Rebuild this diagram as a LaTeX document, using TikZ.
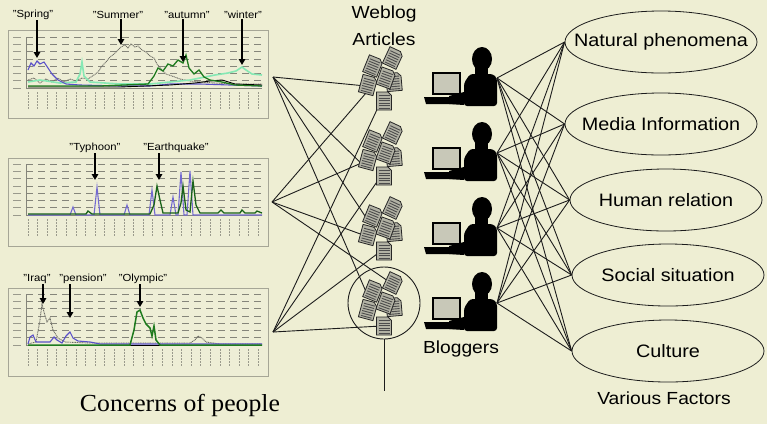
\documentclass[tikz,border=0pt]{standalone}
\usepackage{fontspec}
\setmainfont{Liberation Sans}[FakeStretch=1.1]
\newfontfamily\serifface{Liberation Serif}[FakeStretch=1.05]
\usetikzlibrary{arrows.meta,shapes.geometric}
\definecolor{paper}{HTML}{EEEED3}
\definecolor{chartbg}{HTML}{EEEED6}
\definecolor{framec}{HTML}{A6A696}
\definecolor{gridc}{HTML}{85857A}
\definecolor{tickc}{HTML}{9A9A8C}
\definecolor{docfill}{HTML}{B2B2A4}
\definecolor{screenc}{HTML}{C8C8B8}
\definecolor{springblue}{HTML}{5A50C8}
\definecolor{winterg}{HTML}{86E8B4}
\definecolor{autumng}{HTML}{1E7A1E}
\definecolor{summerg}{HTML}{6E6E66}
\definecolor{linkc}{HTML}{1C1C1C}
\tikzset{
  link/.style={draw=linkc, line width=0.9pt},
  chartframe/.style={draw=framec, line width=0.8pt, fill=chartbg},
  gridline/.style={draw=gridc, line width=0.7pt, dash pattern=on 7pt off 5pt},
  tagarrow/.style={draw=black, line width=1.7pt, -{Triangle[length=6pt,width=6.5pt]}},
  tagtext/.style={font=\fontsize{10.3}{11}\selectfont, inner sep=0pt},
  factor/.style={ellipse, draw=linkc, line width=0.8pt, minimum width=192pt, minimum height=62pt, inner sep=0pt},
  factortext/.style={font=\fontsize{18}{20}\selectfont, inner sep=0pt},
  heading/.style={font=\fontsize{17.5}{19}\selectfont, inner sep=0pt},
  docicon/.pic={
    \draw[fill=docfill, draw=black!85, line width=0.8pt] (-7.5,-9) -- (4,-9) -- (7.5,-5.5) -- (7.5,9) -- (-7.5,9) -- cycle;
    \foreach \yy in {-5.5,-3,-0.5,2,4.5,7}
      \draw[black!70, line width=0.9pt] (-5.5,\yy) -- (5.5,\yy);
  },
  blogger/.pic={
    \draw[fill=screenc, draw=black, line width=2pt] (-64,-5) rectangle (-37,16);
    \fill[black] (-73,19) -- (-36,19) -- (-34,26) -- (-71,26) -- cycle;
    \fill[black] (-15,-19) ellipse (10 and 12);
    \fill[black] (-22,-12) rectangle (-9,-1);
    \fill[black, rounded corners=3pt] (-33,28) -- (-33,5) -- (-27,-4) -- (-4,-4) -- (0,0) -- (0,28) -- cycle;
    \fill[black] (-33,14) -- (-48,18) -- (-48,26) -- (-33,27) -- cycle;
  }
}
\begin{document}
\begin{tikzpicture}[x=1pt,y=-1pt]
\fill[paper] (0,0) rectangle (767,424);
\useasboundingbox (0,0) rectangle (767,424);

% ---------- chart panels ----------
\foreach \top/\base in {30/88, 158/215, 288/345} {
  \path[chartframe] (8,\top) rectangle (268,\top+88);
  \foreach \k in {0,...,6}
    \draw[gridline] (26,{\base-51+\k*7.3}) -- (262,{\base-51+\k*7.3});
  \draw[gridc, line width=0.5pt] (26,\base-51) -- (26,\base) -- (262,\base);
  \foreach \k in {0,...,7}
    \draw[tickc, line width=0.8pt] (13,{\base-51+\k*7.3}) -- (21,{\base-51+\k*7.3});
  \foreach \i in {0,...,24}
    \draw[tickc, line width=0.9pt, dash pattern=on 2pt off 1pt] ({28+\i*9.6},\base+4) -- ({28+\i*9.6},\base+21);
}

% chart 1: seasons
\draw[summerg, line width=0.9pt, dash pattern=on 1pt off 0.7pt]
  (28,80) -- (34,78) -- (40,83) -- (46,79) -- (52,82) -- (58,78) -- (64,82) -- (70,79) -- (76,81) -- (82,78) -- (88,79) -- (94,75) -- (98,72) -- (102,66) -- (106,62) -- (110,57) -- (114,54) -- (118,50) -- (121,47) -- (125,45) -- (128,48) -- (131,44) -- (135,47) -- (138,46) -- (142,50) -- (146,52) -- (150,56) -- (154,58) -- (157,64) -- (162,70) -- (166,74) -- (172,76) -- (180,79) -- (190,81) -- (200,82) -- (215,83) -- (235,84) -- (262,84);
\draw[winterg, line width=1.6pt]
  (28,82) -- (40,80) -- (60,83) -- (76,82) -- (80,74) -- (82,62) -- (84,76) -- (90,82) -- (120,84) -- (150,84) -- (170,82) -- (190,80) -- (205,77) -- (215,75) -- (228,73) -- (236,71) -- (242,67) -- (246,70) -- (252,74) -- (262,75);
\draw[springblue, line width=1.1pt]
  (28,70) -- (31,63) -- (34,66) -- (37,61) -- (40,64) -- (44,62) -- (48,68) -- (52,74) -- (58,80) -- (66,84) -- (80,85) -- (120,86) -- (150,86) -- (170,84) -- (200,84) -- (230,85) -- (262,86);
\draw[black, line width=0.9pt]
  (28,87) -- (120,87) -- (170,85) -- (195,83) -- (210,81) -- (222,80) -- (235,84) -- (262,85);
\draw[autumng, line width=1.3pt]
  (28,86) -- (100,86) -- (148,84) -- (154,76) -- (158,68) -- (163,71) -- (168,64) -- (173,66) -- (178,60) -- (183,63) -- (186,55) -- (189,68) -- (194,74) -- (199,70) -- (204,77) -- (210,80) -- (222,82) -- (235,85) -- (262,86);

% chart 2: typhoon and earthquake
\draw[springblue!85, line width=1.1pt]
  (28,215) -- (70,215) -- (73,207) -- (76,215) -- (94,215) -- (97,187) -- (100,215) -- (124,215) -- (127,205) -- (130,215) -- (149,215) -- (152,190) -- (155,215) -- (170,215) -- (173,197) -- (176,215) -- (178,215) -- (181,172) -- (184,215) -- (187,215) -- (190,171) -- (193,215) -- (262,215);
\draw[autumng!80!black, line width=1.3pt]
  (28,214) -- (86,214) -- (88,211) -- (92,214) -- (150,214) -- (154,205) -- (157,186) -- (160,200) -- (163,213) -- (178,213) -- (181,203) -- (183,186) -- (186,210) -- (190,212) -- (193,181) -- (196,205) -- (200,213) -- (218,213) -- (221,210) -- (224,213) -- (240,213) -- (242,210) -- (245,213) -- (255,213) -- (257,211) -- (262,213);

% chart 3: Iraq, pension, Olympic
\draw[summerg, line width=0.9pt, dash pattern=on 1pt off 0.7pt]
  (28,344) -- (36,342) -- (40,320) -- (42,304) -- (44,312) -- (47,322) -- (50,318) -- (53,330) -- (58,338) -- (65,342) -- (90,343) -- (190,343) -- (195,340) -- (198,336) -- (202,338) -- (206,342) -- (220,344) -- (262,344);
\draw[springblue, line width=1.1pt]
  (28,344) -- (30,337) -- (33,335) -- (36,342) -- (50,342) -- (54,337) -- (57,340) -- (62,343) -- (66,336) -- (70,332) -- (73,338) -- (78,341) -- (90,342) -- (100,344) -- (262,344);
\draw[black, line width=0.9pt] (28,345) -- (262,345);
\draw[autumng, line width=1.5pt]
  (28,345) -- (130,345) -- (134,330) -- (137,312) -- (140,310) -- (143,318) -- (146,324) -- (150,328) -- (152,336) -- (154,326) -- (156,340) -- (160,345) -- (262,345);

% ---------- topic tags ----------
\node[tagtext] (tspring) at (33,15) {"Spring"};
\node[tagtext] (tsummer) at (118,15) {"Summer"};
\node[tagtext] (tautumn) at (187,15) {"autumn"};
\node[tagtext] (twinter) at (243,15) {"winter"};
\coordinate (pspring) at (37,58);
\coordinate (psummer) at (121,45);
\coordinate (pautumn) at (183,62);
\coordinate (pwinter) at (242,65);
\draw[tagarrow] (tspring.south -| pspring) -- (pspring);
\draw[tagarrow] (tsummer.south -| psummer) -- (psummer);
\draw[tagarrow] (tautumn.south -| pautumn) -- (pautumn);
\draw[tagarrow] (twinter.south -| pwinter) -- (pwinter);

\node[tagtext] (ttyphoon) at (95,148) {"Typhoon"};
\node[tagtext] (tquake) at (176,148) {"Earthquake"};
\coordinate (ptyphoon) at (95,180);
\coordinate (pquake) at (159,180);
\draw[tagarrow] (ttyphoon.south -| ptyphoon) -- (ptyphoon);
\draw[tagarrow] (tquake.south -| pquake) -- (pquake);

\node[tagtext] (tiraq) at (37,279) {"Iraq"};
\node[tagtext] (tpension) at (83,279) {"pension"};
\node[tagtext] (tolympic) at (143,279) {"Olympic"};
\coordinate (piraq) at (43,304);
\coordinate (ppension) at (70,318);
\coordinate (polympic) at (140,307);
\draw[tagarrow] (tiraq.south -| piraq) -- (piraq);
\draw[tagarrow] (tpension.south -| ppension) -- (ppension);
\draw[tagarrow] (tolympic.south -| polympic) -- (polympic);

\node[font=\serifface\fontsize{24.5}{26}\selectfont, inner sep=0pt] (concerns) at (180,405) {Concerns of people};

% ---------- hubs on the chart panels ----------
\coordinate (L1) at (273,77);
\coordinate (L2) at (272,202);
\coordinate (L3) at (273,332);

% ---------- weblog article clusters ----------
\node[heading] (weblog) at (384,14) {Weblog};
\node[heading] (articles) at (384,39) {Articles};
\foreach \n/\cy in {1/80, 2/155, 3/230, 4/305} {
  \coordinate (C\n a) at (366,\cy+6);
  \coordinate (C\n b) at (381,\cy+21);
  \coordinate (C\n c) at (366,\cy+13);
  \coordinate (C\n t) at (367,\cy-11);
  \coordinate (C\n u) at (388,\cy-24);
}
% connectors from the chart panels into the clusters
\draw[link] (L1) -- (C1a);
\draw[link] (L1) -- (C2c);
\draw[link] (L1) -- (C3t);
\draw[link] (L1) -- (C4t);
\draw[link] (L2) -- (C1c);
\draw[link] (L2) -- (C2a);
\draw[link] (L2) -- (C3a);
\draw[link] (L2) -- (C4u);
\draw[link] (L3) -- (C1b);
\draw[link] (L3) -- (C2b);
\draw[link] (L3) -- (C3b);
\draw[link] (L3) -- (C4b);

\foreach \cy in {80, 155, 230, 305} {
  \pic[rotate=5] at (394,\cy+2) {docicon};
  \pic[rotate=-22] at (373,\cy-14) {docicon};
  \pic[rotate=-25] at (393,\cy-22) {docicon};
  \pic[rotate=-20] at (386,\cy-2) {docicon};
  \pic[rotate=-15] at (368,\cy+5) {docicon};
  \pic at (384,\cy+21) {docicon};
}
% selection circle around the last cluster
\node[circle, draw=linkc, line width=0.9pt, minimum size=72pt, inner sep=0pt] (focus) at (384,303) {};
\coordinate (focusend) at (384,391);
\draw[link] (focus.south) -- (focusend);

% ---------- bloggers ----------
\foreach \n/\by in {1/78, 2/153, 3/228, 4/303} {
  \coordinate (B\n) at (497,\by);
  \pic at (B\n) {blogger};
}
\node[heading] (bloggers) at (461,349) {Bloggers};

% ---------- factors ----------
\node[factor, label={[factortext]center:Natural phenomena}] (E1) at (661,42) {};
\node[factor, label={[factortext]center:Media Information}] (E2) at (661,124) {};
\node[factor, label={[factortext]center:Human relation}] (E3) at (666,200) {};
\node[factor, label={[factortext]center:Social situation}] (E4) at (668,275) {};
\node[factor, label={[factortext]center:Culture}] (E5) at (668,351) {};
\node[heading] (factors) at (664,398) {Various Factors};

\foreach \b in {1,...,4}
  \foreach \e in {1,...,5}
    \draw[link] (B\b) -- (E\e.west);
\end{tikzpicture}
\end{document}
